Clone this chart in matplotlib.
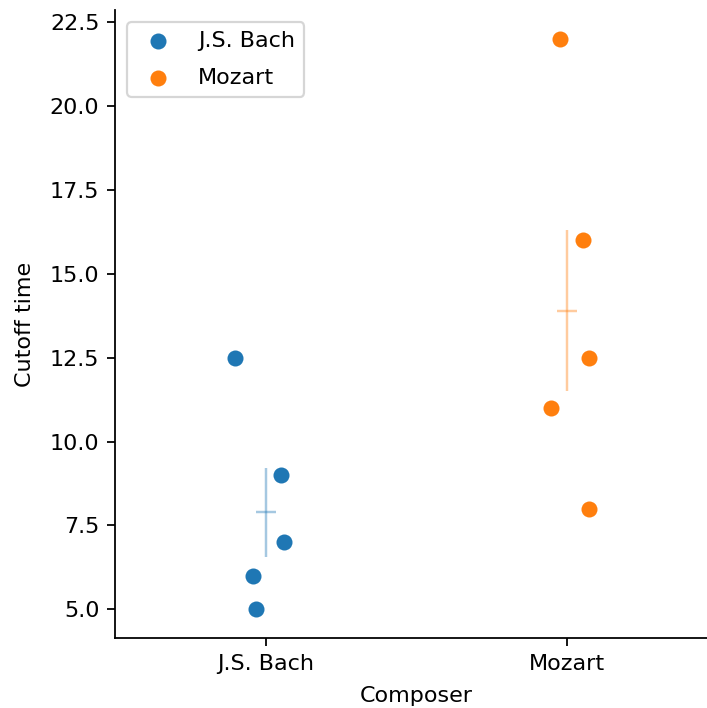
import matplotlib
matplotlib.use("Agg")
import matplotlib.pyplot as plt
import numpy as np

composers = ["J.S. Bach", "Mozart"]
bach_times = [12.5, 9.0, 7.0, 6.0, 5.0]
mozart_times = [22.0, 16.0, 12.5, 11.0, 8.0]
bach_jitter = [-0.10, 0.053, 0.063, -0.04, -0.033]
mozart_jitter = [-0.02, 0.056, 0.076, -0.05, 0.076]

colors = ["#1f77b4", "#ff7f0e"]
series = [bach_times, mozart_times]
jitters = [bach_jitter, mozart_jitter]

dpi = 160
W, H = 707, 708
fig = plt.figure(figsize=(W / dpi, H / dpi), dpi=dpi)
left, right, bottom, top = 115, 717, 638, 10
ax = fig.add_axes([left / W, (H - bottom) / H, (right - left) / W, (bottom - top) / H])

for i, (vals, jit, c, name) in enumerate(zip(series, jitters, colors, composers)):
    vals = np.array(vals)
    x = i + np.array(jit)
    ax.scatter(x, vals, s=52, color=c, linewidths=0, label=name, zorder=3)
    mean = vals.mean()
    sem = vals.std(ddof=1) / np.sqrt(len(vals))
    ax.errorbar([i], [mean], yerr=[sem], fmt="_", color=c, alpha=0.4,
                markersize=9, elinewidth=1.1, markeredgewidth=1.1, zorder=2)

ax.set_xticks(range(len(composers)))
ax.set_xticklabels(composers)
ax.set_xlim(-0.5, 1.5)
ax.set_ylim(4.15, 22.85)
ticks = np.arange(5.0, 22.6, 2.5)
ax.set_yticks(ticks)
ax.set_yticklabels([f"{v:.1f}" for v in ticks])
ax.set_xlabel("Composer", labelpad=5.5)
ax.set_ylabel("Cutoff time", labelpad=6.5)
ax.spines["top"].set_visible(False)
ax.spines["right"].set_visible(False)
ax.legend(loc="upper left", labelspacing=0.75, borderaxespad=0.55)

fig.savefig("out.png", dpi=dpi)
